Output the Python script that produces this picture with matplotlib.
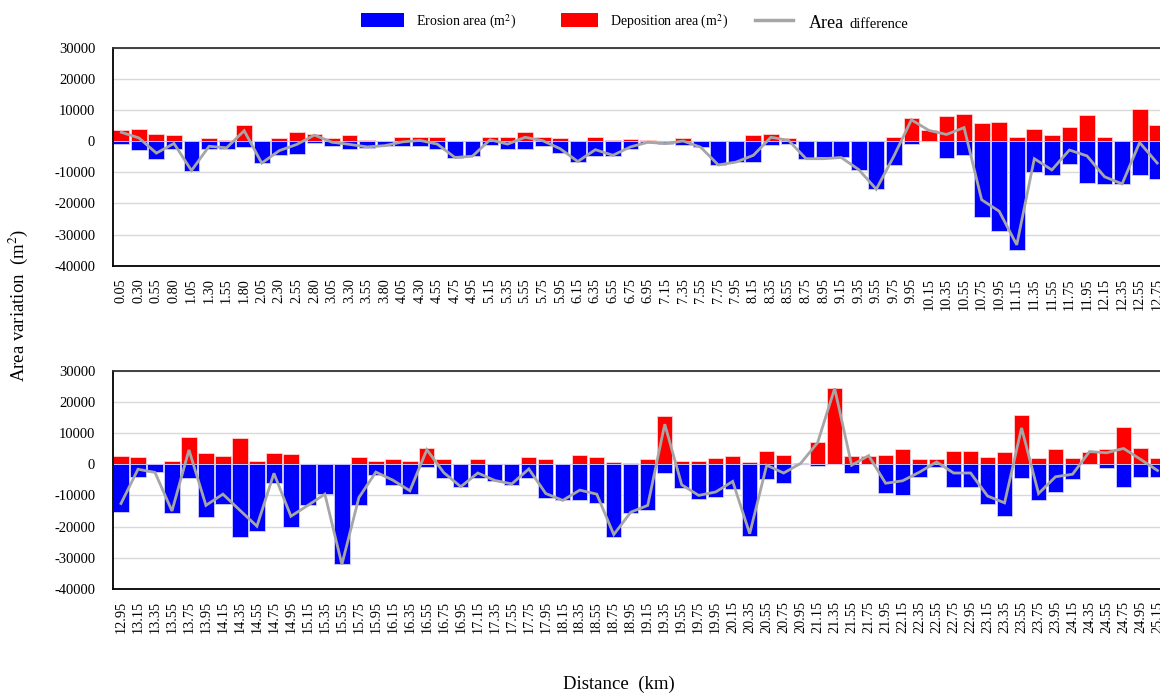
import numpy as np
import matplotlib
matplotlib.use("Agg")
import matplotlib.pyplot as plt
from matplotlib.patches import Rectangle
from matplotlib.lines import Line2D

plt.rcParams['font.family'] = ['Liberation Serif', 'DejaVu Serif']
plt.rcParams['mathtext.fontset'] = 'stix'

# ---------------- data ----------------
top_labels = ['0.05', '0.30', '0.55', '0.80', '1.05', '1.30', '1.55', '1.80', '2.05', '2.30',
              '2.55', '2.80', '3.05', '3.30', '3.55', '3.80', '4.05', '4.30', '4.55', '4.75',
              '4.95', '5.15', '5.35', '5.55', '5.75', '5.95', '6.15', '6.35', '6.55', '6.75',
              '6.95', '7.15', '7.35', '7.55', '7.75', '7.95', '8.15', '8.35', '8.55', '8.75',
              '8.95', '9.15', '9.35', '9.55', '9.75', '9.95', '10.15', '10.35', '10.55', '10.75',
              '10.95', '11.15', '11.35', '11.55', '11.75', '11.95', '12.15', '12.35', '12.55', '12.75']
top_erosion = [-750, -2900, -5700, -2500, -9400, -2500, -2500, -1900, -6900, -4500,
               -4100, -400, -1400, -2500, -2000, -1400, -1400, -1400, -2400, -5300,
               -4800, -1200, -2400, -2400, -1600, -3700, -6500, -4800, -4800, -2400,
               -400, -750, -1200, -1900, -7700, -6800, -6500, -1200, -750, -5600,
               -5200, -5200, -9200, -15400, -7600, -900, 0, -5300, -4500, -24500,
               -29000, -35000, -9800, -10900, -7300, -13300, -13800, -13800, -10900, -12000]
top_deposition = [3500, 4000, 2400, 1900, 0, 1100, 400, 5200, 0, 1100,
                  3100, 2400, 1100, 1900, 400, 0, 1500, 1500, 1500, 0,
                  0, 1500, 1500, 3100, 1500, 1100, 0, 1500, 400, 750,
                  400, 0, 1100, 0, 0, 0, 1900, 2400, 1100, 0,
                  0, 0, 0, 0, 1500, 7500, 3500, 8000, 8700, 5900,
                  6300, 1500, 4000, 1900, 4700, 8300, 1500, 0, 10400, 5200]
top_difference = [2900, 1100, -3800, -700, -9400, -1600, -2100, 3400, -7000, -3000,
                  -1000, 2000, -300, -1000, -1800, -1400, -200, 300, -900, -5200,
                  -4800, 500, -900, 1300, 200, -2400, -6500, -2700, -4500, -1800,
                  -300, -750, 100, -1900, -7600, -6700, -4500, 1300, 300, -5600,
                  -5600, -5200, -9100, -15400, -4800, 6900, 3500, 2200, 4400, -18800,
                  -22500, -33300, -5600, -9200, -2800, -4700, -11400, -13700, -400, -7000]

bottom_labels = ['12.95', '13.15', '13.35', '13.55', '13.75', '13.95', '14.15', '14.35', '14.55', '14.75',
                 '14.95', '15.15', '15.35', '15.55', '15.75', '15.95', '16.15', '16.35', '16.55', '16.75',
                 '16.95', '17.15', '17.35', '17.55', '17.75', '17.95', '18.15', '18.35', '18.55', '18.75',
                 '18.95', '19.15', '19.35', '19.55', '19.75', '19.95', '20.15', '20.35', '20.55', '20.75',
                 '20.95', '21.15', '21.35', '21.55', '21.75', '21.95', '22.15', '22.35', '22.55', '22.75',
                 '22.95', '23.15', '23.35', '23.55', '23.75', '23.95', '24.15', '24.35', '24.55', '24.75',
                 '24.95', '25.15']
bottom_erosion = [-15200, -4000, -2400, -15700, -4400, -16900, -12800, -23300, -21300, -6000,
                  -20100, -13200, -9700, -32200, -13200, -3500, -6500, -9700, -750, -4400,
                  -7300, -4400, -5300, -6500, -4400, -10900, -11600, -11600, -12500, -23300,
                  -15700, -14800, -2800, -7600, -11300, -10400, -8100, -22900, -4800, -6000,
                  0, -500, 0, -2800, 0, -9200, -10000, -4000, -750, -7200,
                  -7200, -12800, -16500, -4400, -11600, -8800, -4800, 0, -1200, -7200,
                  -4000, -4000]
bottom_deposition = [2800, 2400, 0, 1200, 8800, 3500, 2800, 8400, 1200, 3500,
                     3200, 0, 0, 0, 2500, 1200, 1600, 1200, 5200, 1600,
                     0, 1600, 0, 0, 2400, 1600, 0, 3100, 2400, 750,
                     300, 1600, 15600, 1200, 1200, 1900, 2800, 750, 4400, 3100,
                     300, 7200, 24400, 2800, 2800, 3100, 4800, 1600, 1600, 4400,
                     4400, 2400, 4000, 16000, 1900, 4800, 1900, 4000, 4800, 11900,
                     5200, 1900]
bottom_difference = [-12600, -1600, -2600, -15000, 4600, -13200, -9600, -14800, -19900, -2900,
                     -16700, -13200, -9600, -32200, -10700, -2500, -5100, -8500, 4700, -2700,
                     -7200, -2800, -5200, -6300, -1500, -9400, -11600, -8300, -9600, -22600,
                     -15400, -13200, 12900, -6600, -10000, -8900, -5500, -22300, -300, -2800,
                     300, 7000, 24400, -300, 2800, -6100, -5300, -2500, 750, -2800,
                     -2800, -10200, -12400, 11700, -9400, -4000, -3200, 4100, 3700, 5100,
                     1600, -2000]

y_ticks = [-40000, -30000, -20000, -10000, 0, 10000, 20000, 30000]

# ---------------- style ----------------
W, H = 1160, 694
BLUE = '#0000FF'
RED = '#FF0000'
GRAY = '#A6A6A6'
GRID = '#D9D9D9'

fig = plt.figure(figsize=(W / 100, H / 100), dpi=100)


def px_rect(left, top, right, bottom):
    return [left / W, 1 - bottom / H, (right - left) / W, (bottom - top) / H]


def draw_panel(ax, labels, ero, dep, diff):
    x = np.arange(len(labels))
    ax.bar(x, dep, width=0.9, color=RED, edgecolor='#FFD0D0', linewidth=0.6, zorder=2)
    ax.bar(x, ero, width=0.9, color=BLUE, edgecolor='#D0D0FF', linewidth=0.6, zorder=2)
    ax.plot(x, diff, color=GRAY, linewidth=2.0, zorder=3, solid_joinstyle='miter')
    ax.set_xlim(-0.5, len(labels) - 0.5)
    ax.set_ylim(-40000, 30000)
    ax.set_yticks(y_ticks)
    ax.set_yticklabels([str(v) for v in y_ticks], fontsize=10.5)
    ax.set_xticks(x)
    ax.set_xticklabels(labels, rotation=90, fontsize=10.3)
    ax.tick_params(axis='y', length=0, pad=12.5)
    ax.tick_params(axis='x', length=0, pad=9)
    ax.yaxis.grid(True, color=GRID, linewidth=1.0)
    ax.set_axisbelow(True)
    for sp in ax.spines.values():
        sp.set_color('black')
        sp.set_linewidth(1.3)
    ax.spines['top'].set_color('#333333')


ax1 = fig.add_axes(px_rect(112.5, 48, 1166, 265.7))
draw_panel(ax1, top_labels, top_erosion, top_deposition, top_difference)

ax2 = fig.add_axes(px_rect(112.5, 371, 1166, 588.7))
draw_panel(ax2, bottom_labels, bottom_erosion, bottom_deposition, bottom_difference)

# axis titles
fig.text(18 / W, 1 - 305 / H, 'Area variation  (m$^2$)', rotation=90,
         ha='center', va='center', fontsize=13.5)
fig.text(619 / W, 1 - 684 / H, 'Distance  (km)', ha='center', va='center', fontsize=13.5)

# legend (manual)
fig.patches.append(Rectangle((361 / W, 1 - 27 / H), 43 / W, 14 / H,
                             transform=fig.transFigure, facecolor=BLUE, edgecolor='none'))
fig.text(416 / W, 1 - 26 / H, 'Erosion area (m$^2$)', ha='left', va='baseline', fontsize=10)
fig.patches.append(Rectangle((561 / W, 1 - 27 / H), 37 / W, 14 / H,
                             transform=fig.transFigure, facecolor=RED, edgecolor='none'))
fig.text(610 / W, 1 - 26 / H, 'Deposition area (m$^2$)', ha='left', va='baseline', fontsize=10)
fig.lines.append(Line2D([755 / W, 793 / W], [1 - 20 / H, 1 - 20 / H],
                        transform=fig.transFigure, color=GRAY, linewidth=2.5))
fig.text(809 / W, 1 - 28 / H, 'Area', ha='left', va='baseline', fontsize=13)
fig.text(849 / W, 1 - 28 / H, 'difference', ha='left', va='baseline', fontsize=10.5)

fig.savefig('out.png', dpi=100)
